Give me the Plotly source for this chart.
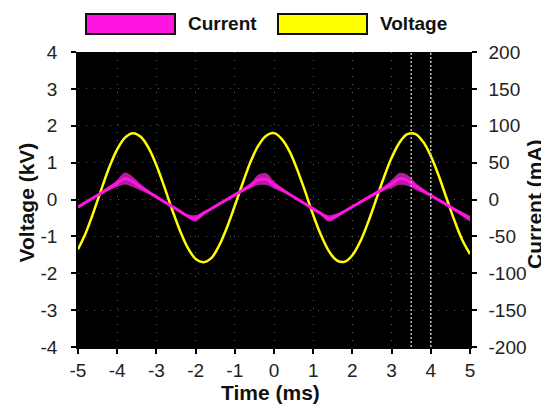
import plotly.graph_objects as go

# ---- data ----
time_ms = [-5.0, -4.8, -4.6, -4.4, -4.2, -4.0, -3.8, -3.6, -3.4, -3.2, -3.0,
           -2.8, -2.6, -2.4, -2.2, -2.0, -1.8, -1.6, -1.4, -1.2, -1.0,
           -0.8, -0.6, -0.4, -0.2, 0.0, 0.2, 0.4, 0.6, 0.8, 1.0,
           1.2, 1.4, 1.6, 1.8, 2.0, 2.2, 2.4, 2.6, 2.8, 3.0,
           3.2, 3.4, 3.6, 3.8, 4.0, 4.2, 4.4, 4.6, 4.8, 5.0]

voltage_kV = [-1.35, -0.90, -0.33, 0.29, 0.88, 1.36, 1.68, 1.80, 1.70, 1.40, 0.93,
              0.35, -0.27, -0.84, -1.31, -1.61, -1.70, -1.59, -1.25, -0.76, -0.17,
              0.44, 1.02, 1.46, 1.73, 1.80, 1.64, 1.30, 0.79, 0.20, -0.42,
              -0.97, -1.40, -1.65, -1.69, -1.51, -1.14, -0.62, -0.02, 0.59, 1.13,
              1.54, 1.77, 1.78, 1.57, 1.18, 0.65, 0.04, -0.56, -1.09, -1.48]

current_mA = [-10.3, -3.8, 2.6, 9.0, 15.5, 21.9, 28.5, 24.0, 16.6, 10.1, 3.6,
              -3.1, -9.4, -15.9, -22.4, -25.5, -18.8, -12.5, -6.2, 0.1, 6.3,
              12.6, 18.9, 26.5, 27.5, 19.9, 13.4, 6.9, 0.4, -6.1, -12.7,
              -19.2, -25.7, -22.1, -15.9, -9.8, -3.6, 2.5, 8.7, 14.8, 21.0,
              28.0, 26.0, 18.3, 11.9, 5.6, -0.7, -7.0, -13.4, -19.7, -26.0]

# half-width of the noisy band around the current trace (mA)
current_noise_mA = [1, 1, 1, 2, 3, 5, 8, 7, 4.5, 2.5, 1,
                    1, 1, 1, 2.5, 4.5, 2.5, 1, 1, 1, 1,
                    2, 3.5, 7, 8, 5, 3, 1.5, 1, 1, 1,
                    2, 4.5, 3, 1, 1, 1, 1, 2, 3, 5.5,
                    8, 7.5, 5, 3, 1.5, 1, 1, 2, 3, 4]

cursor_times = [3.5, 4.0]

x_ticks = [-5, -4, -3, -2, -1, 0, 1, 2, 3, 4, 5]
x_ticktext = ["-5", "-4", "-3", "-2", "-1", "0", "1", "2", "3", "4", "5"]
v_ticks = [-4, -3, -2, -1, 0, 1, 2, 3, 4]
v_ticktext = ["-4", "-3", "-2", "-1", "0", "1", "2", "3", "4"]
i_ticks = [-200, -150, -100, -50, 0, 50, 100, 150, 200]
i_ticktext = ["-200", "-150", "-100", "-50", "0", "50", "100", "150", "200"]

legend_names = ["Current", "Voltage"]

# ---- styles ----
MAG = "#ff14e0"
YEL = "#ffff00"
FONT = "Liberation Sans, Arial, sans-serif"

upper = [c + n for c, n in zip(current_mA, current_noise_mA)]
lower = [c - n for c, n in zip(current_mA, current_noise_mA)]

fig = go.Figure()
fig.add_trace(go.Scatter(x=time_ms, y=upper, yaxis="y2", mode="lines",
                         line=dict(width=0, shape="spline", color=MAG),
                         showlegend=False, hoverinfo="skip"))
fig.add_trace(go.Scatter(x=time_ms, y=lower, yaxis="y2", mode="lines",
                         line=dict(width=0, shape="spline", color=MAG),
                         fill="tonexty", fillcolor="rgba(255,40,225,0.7)",
                         showlegend=False, hoverinfo="skip"))
fig.add_trace(go.Scatter(x=time_ms, y=current_mA, yaxis="y2", mode="lines",
                         name="Current",
                         line=dict(width=3, shape="spline", color=MAG),
                         showlegend=False))
fig.add_trace(go.Scatter(x=time_ms, y=voltage_kV, yaxis="y", mode="lines",
                         name="Voltage",
                         line=dict(width=2.5, shape="spline", color=YEL),
                         showlegend=False))

for t in cursor_times:
    fig.add_vline(x=t, line=dict(color="#b8b8b8", width=1.5, dash="2px,2px"),
                  layer="above")

tickfont = dict(family=FONT, size=19, color="#222222")

# the page adds an 8px body margin; figure is sized so the plot area sits at
# page pixels x 78..470, y 52..347
W, H = 541, 398
fig.update_layout(
    width=W, height=H,
    margin=dict(l=70, r=W - 462, t=44, b=H - 339, autoexpand=False),
    paper_bgcolor="white",
    plot_bgcolor="black",
    showlegend=False,
    xaxis=dict(range=[-5, 5], tickvals=x_ticks, ticktext=x_ticktext,
               ticks="outside", ticklen=5,
               tickwidth=1.5, tickcolor="black", showline=True, linecolor="black",
               linewidth=1.5, showgrid=True, gridcolor="#5e5e5e", gridwidth=1,
               griddash="1px,7px", zeroline=False, tickfont=tickfont,
               ticklabelstandoff=0),
    yaxis=dict(range=[-4, 4], tickvals=v_ticks, ticktext=v_ticktext,
               ticks="outside", ticklen=5,
               tickwidth=1.5, tickcolor="black", showline=True, linecolor="black",
               linewidth=1.5, showgrid=True, gridcolor="#5e5e5e", gridwidth=1,
               griddash="1px,7px", zeroline=False, tickfont=tickfont,
               ticklabelstandoff=10),
    yaxis2=dict(range=[-200, 200], tickvals=i_ticks, ticktext=i_ticktext,
                overlaying="y", side="right",
                ticks="outside", ticklen=5, tickwidth=1.5, tickcolor="black",
                showline=True, linecolor="black", linewidth=1.5, showgrid=False,
                zeroline=False, tickfont=tickfont, ticklabelstandoff=8),
)

titlefont = dict(family=FONT, size=21, color="#111111")
fig.add_annotation(text="<b>Voltage (kV)</b>", xref="paper", yref="paper",
                   x=(26 - 78) / 392, y=0.49, textangle=-90, showarrow=False,
                   font=titlefont, xanchor="center", yanchor="middle")
fig.add_annotation(text="<b>Current (mA)</b>", xref="paper", yref="paper",
                   x=(535 - 78) / 392, y=0.485, textangle=-90, showarrow=False,
                   font=titlefont, xanchor="center", yanchor="middle")
fig.add_annotation(text="<b>Time (ms)</b>", xref="paper", yref="paper",
                   x=(270 - 78) / 392, y=(347 - 392) / 295, showarrow=False,
                   font=titlefont, xanchor="center", yanchor="middle")

# legend drawn as boxes + labels above the plot
legend_colors = [MAG, YEL]
box_left_px = [86, 278]
for name, col, bx in zip(legend_names, legend_colors, box_left_px):
    fig.add_shape(type="rect", xref="paper", yref="paper",
                  x0=(bx - 78) / 392, x1=(bx + 89 - 78) / 392,
                  y0=(347 - 34) / 295, y1=(347 - 14) / 295,
                  fillcolor=col, line=dict(color="#111111", width=2))
    fig.add_annotation(text="<b>" + name + "</b>", xref="paper", yref="paper",
                       x=(bx + 100 - 78) / 392, y=(347 - 24) / 295,
                       xanchor="left", yanchor="middle", showarrow=False,
                       font=dict(family=FONT, size=19, color="#111111"))

fig.write_html("out.html")
